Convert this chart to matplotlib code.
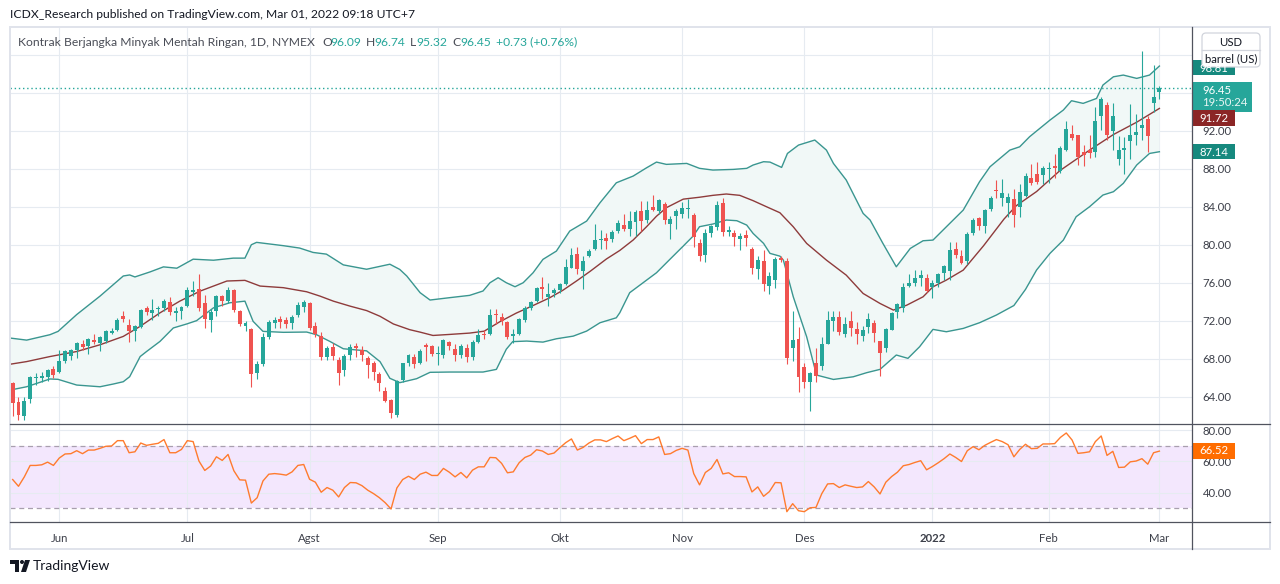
import numpy as np
import pandas as pd
import matplotlib
matplotlib.use("Agg")
import matplotlib.pyplot as plt
from matplotlib.patches import Rectangle, FancyBboxPatch, Circle, Polygon

plt.rcParams['font.family'] = ['Lato', 'DejaVu Sans']

W, H = 1280, 584

# daily candles, 19 May 2021 .. 1 Mar 2022
opens = [65.40, 63.40, 62.00, 63.80, 66.00, 66.00, 66.10, 66.90, 66.60, 67.80,
         68.30, 68.90, 69.60, 69.30, 70.00, 69.70, 69.90, 70.70, 71.00, 72.50,
         71.60, 70.90, 71.30, 73.30, 72.85, 73.20, 73.30, 74.00, 72.80, 73.00,
         73.50, 75.00, 75.30, 73.90, 72.10, 73.00, 74.60, 74.10, 75.20, 73.00,
         71.40, 71.10, 66.50, 67.40, 70.30, 71.80, 72.20, 72.10, 71.80, 72.60,
         73.40, 73.90, 71.40, 70.40, 68.20, 69.20, 67.90, 66.80, 68.40, 69.30,
         68.90, 68.10, 67.50, 66.40, 64.60, 63.70, 62.10, 65.80, 67.60, 68.20,
         67.60, 69.40, 69.30, 68.50, 68.40, 69.80, 69.00, 68.40, 69.10, 68.20,
         69.80, 70.60, 70.60, 72.70, 72.40, 71.90, 70.40, 70.60, 72.10, 73.30,
         74.10, 75.60, 74.50, 74.90, 75.20, 75.90, 77.60, 79.00, 77.20, 78.80,
         79.50, 80.50, 80.70, 80.60, 81.40, 82.10, 81.70, 82.40, 83.55, 82.60,
         84.00, 83.50, 84.30, 82.20, 83.00, 83.20, 83.80, 83.10, 80.20, 78.90,
         81.20, 81.90, 84.40, 81.30, 81.20, 80.60, 81.00, 79.60, 77.40, 78.30,
         75.70, 76.30, 78.60, 78.30, 69.10, 70.10, 67.10, 65.60, 67.50, 67.20,
         69.60, 72.00, 72.40, 70.60, 72.00, 71.10, 70.40, 71.30, 71.80, 69.90,
         69.10, 71.00, 72.90, 73.30, 75.70, 76.00, 76.50, 76.50, 75.50, 76.00,
         77.00, 77.20, 79.50, 78.80, 78.30, 81.20, 82.80, 82.00, 83.80, 85.80,
         84.95, 84.40, 84.80, 84.00, 85.10, 87.05, 87.40, 87.30, 87.95, 88.30,
         87.80, 90.00, 91.70, 91.55, 89.75, 90.00, 89.80, 93.60, 94.70, 92.00,
         89.00, 90.00, 90.90, 91.50, 92.30, 93.20, 94.90, 96.09]
highs = [65.60, 64.00, 64.00, 66.20, 66.50, 66.60, 66.90, 67.20, 68.90, 68.90,
         69.00, 69.80, 70.00, 70.20, 70.60, 70.40, 71.00, 71.20, 72.30, 73.00,
         72.20, 71.60, 73.20, 73.50, 74.25, 73.60, 74.30, 74.50, 73.40, 73.50,
         75.60, 76.20, 76.95, 74.70, 73.20, 74.70, 74.70, 75.50, 75.30, 73.10,
         72.00, 71.20, 67.80, 70.70, 72.10, 72.40, 72.50, 72.40, 72.60, 74.00,
         74.20, 74.00, 71.90, 70.80, 69.30, 69.70, 68.20, 68.50, 69.50, 69.70,
         69.30, 68.30, 67.80, 66.60, 65.00, 63.80, 65.80, 67.60, 68.50, 68.50,
         69.00, 69.65, 69.40, 69.30, 70.10, 69.90, 69.60, 69.60, 69.60, 70.00,
         71.10, 71.00, 73.20, 73.20, 72.80, 72.00, 71.10, 72.30, 73.50, 74.10,
         75.60, 76.60, 76.00, 75.40, 76.00, 78.50, 79.70, 79.80, 78.80, 79.50,
         82.20, 81.60, 81.20, 81.60, 82.60, 83.20, 83.50, 83.70, 84.60, 84.60,
         85.20, 84.80, 84.50, 83.00, 83.80, 84.50, 84.80, 83.30, 80.60, 81.70,
         82.10, 84.60, 84.90, 82.00, 81.60, 81.20, 81.60, 79.80, 78.80, 79.40,
         77.10, 78.75, 78.80, 78.60, 73.00, 71.30, 67.50, 66.60, 69.10, 70.30,
         73.00, 73.00, 73.00, 72.40, 73.00, 71.90, 71.40, 72.80, 72.10, 69.90,
         71.20, 72.90, 73.90, 76.00, 76.90, 77.30, 77.30, 76.90, 76.30, 77.00,
         77.90, 80.25, 80.30, 79.40, 81.30, 82.80, 82.90, 83.80, 85.10, 86.80,
         86.90, 85.40, 85.90, 86.40, 87.60, 88.50, 88.70, 88.30, 88.70, 89.60,
         90.40, 93.00, 92.60, 91.60, 90.50, 91.60, 94.50, 95.60, 95.00, 94.90,
         91.40, 91.30, 94.80, 93.80, 100.40, 93.60, 98.90, 96.74]
lows = [62.00, 61.60, 61.60, 63.30, 65.20, 65.50, 65.70, 66.00, 66.50, 67.50,
        67.90, 68.10, 68.90, 68.50, 69.50, 68.80, 69.70, 70.60, 70.90, 71.90,
        69.80, 69.90, 71.20, 72.60, 72.10, 72.50, 73.00, 72.60, 72.00, 72.20,
        73.40, 74.60, 73.00, 71.20, 70.80, 72.50, 73.50, 73.90, 72.90, 71.40,
        70.90, 65.00, 65.90, 67.20, 70.10, 71.20, 71.20, 71.20, 71.10, 72.40,
        72.90, 71.00, 70.30, 67.90, 67.90, 67.90, 65.20, 66.20, 67.90, 68.20,
        67.80, 66.00, 65.80, 64.60, 63.40, 61.74, 61.90, 65.60, 67.20, 67.00,
        67.40, 67.75, 68.30, 67.30, 68.10, 68.90, 67.80, 68.10, 67.70, 67.90,
        69.70, 70.10, 70.50, 71.70, 71.50, 70.10, 69.70, 70.50, 71.90, 73.10,
        74.00, 74.30, 73.60, 74.50, 74.90, 75.80, 77.50, 76.90, 75.30, 78.70,
        79.40, 79.50, 79.50, 80.30, 81.20, 81.40, 80.90, 80.90, 81.40, 82.30,
        83.50, 83.20, 82.20, 80.60, 81.70, 82.80, 82.80, 79.80, 78.30, 78.20,
        80.80, 81.60, 80.90, 80.90, 79.90, 79.40, 79.90, 76.90, 76.40, 75.10,
        74.80, 75.40, 78.20, 67.40, 67.80, 64.50, 64.90, 62.50, 65.60, 66.80,
        69.50, 70.90, 70.50, 70.30, 70.40, 69.60, 69.90, 70.70, 69.80, 66.20,
        68.70, 71.00, 72.30, 72.90, 75.50, 75.70, 75.70, 75.00, 74.40, 75.60,
        76.30, 76.30, 78.60, 78.00, 78.00, 81.00, 81.50, 81.20, 83.50, 84.90,
        84.10, 82.90, 81.90, 82.95, 85.00, 86.30, 86.40, 86.40, 86.50, 87.00,
        87.60, 89.90, 91.00, 88.40, 88.30, 89.10, 89.20, 92.10, 91.00, 90.00,
        88.40, 87.40, 89.00, 90.50, 91.00, 89.80, 94.00, 95.32]
closes = [63.36, 62.05, 63.58, 66.05, 66.10, 66.21, 66.85, 66.32, 67.72, 68.83,
          68.90, 69.70, 69.23, 70.05, 69.80, 70.25, 70.91, 70.95, 72.05, 72.15,
          70.95, 71.45, 73.15, 72.95, 73.10, 73.35, 74.05, 72.91, 73.00, 73.47,
          75.23, 75.20, 73.30, 72.20, 72.94, 74.56, 74.10, 75.25, 73.13, 71.65,
          71.81, 66.42, 67.42, 70.30, 71.91, 72.07, 71.91, 71.65, 72.39, 73.62,
          73.95, 71.26, 70.56, 68.15, 69.09, 68.28, 66.48, 68.29, 69.25, 69.09,
          68.44, 67.29, 66.59, 65.46, 63.50, 62.32, 65.64, 67.54, 68.36, 67.42,
          68.80, 69.21, 68.50, 68.59, 69.99, 69.29, 68.35, 69.30, 68.14, 69.72,
          70.45, 70.46, 72.61, 72.61, 71.97, 70.29, 70.56, 72.23, 73.30, 73.98,
          75.45, 75.29, 74.83, 75.20, 75.88, 77.62, 78.93, 77.43, 78.30, 79.35,
          80.52, 80.64, 80.44, 81.31, 82.28, 81.70, 82.50, 83.40, 82.50, 83.65,
          83.65, 84.70, 82.60, 82.70, 83.55, 83.90, 83.91, 80.86, 78.81, 81.27,
          81.93, 84.15, 81.34, 81.59, 80.79, 80.88, 80.76, 77.50, 78.40, 75.90,
          76.70, 78.50, 78.40, 68.10, 70.00, 66.10, 65.60, 66.50, 66.20, 69.55,
          72.10, 72.40, 70.85, 71.65, 71.25, 70.60, 71.00, 72.20, 70.70, 68.60,
          71.10, 72.80, 73.75, 75.60, 75.95, 76.45, 76.80, 75.10, 76.00, 76.90,
          77.80, 79.44, 78.90, 78.10, 81.10, 82.60, 82.00, 83.70, 84.90, 85.70,
          85.47, 85.00, 83.10, 85.60, 87.20, 86.50, 86.60, 88.10, 88.05, 88.10,
          90.20, 92.15, 91.20, 89.20, 89.40, 89.70, 93.00, 95.30, 91.55, 93.55,
          90.00, 90.20, 91.50, 91.90, 92.60, 91.40, 95.60, 96.45]

rsi = [48.4, 44.1, 50.1, 57.4, 57.4, 57.8, 59.5, 57.4, 62.1, 64.7,
       64.9, 66.8, 64.9, 67.2, 67.2, 68.3, 69.6, 69.8, 73.2, 73.2,
       65.5, 66.1, 71.7, 70.2, 70.9, 71.5, 73.9, 65.5, 65.5, 67.6,
       73.2, 72.6, 60.2, 54.2, 57.0, 62.9, 60.6, 64.4, 54.0, 48.2,
       48.0, 33.4, 36.8, 47.5, 51.8, 52.2, 51.8, 51.2, 53.3, 57.4,
       58.0, 48.6, 46.7, 40.3, 43.3, 41.6, 37.3, 43.3, 46.5, 46.3,
       44.5, 41.6, 39.4, 36.8, 33.6, 29.6, 43.0, 48.4, 50.5, 48.4,
       51.8, 53.1, 51.0, 51.0, 55.5, 53.1, 50.1, 52.9, 49.5, 54.4,
       56.5, 56.5, 62.5, 62.3, 58.7, 52.7, 53.3, 59.1, 62.5, 64.0,
       67.4, 66.6, 64.4, 65.3, 68.7, 71.9, 74.3, 67.2, 68.9, 71.7,
       73.7, 73.7, 72.6, 74.5, 76.2, 73.2, 74.7, 76.4, 71.3, 73.9,
       73.9, 75.6, 64.4, 64.9, 67.0, 68.3, 67.2, 52.2, 45.0, 52.9,
       55.5, 61.2, 52.0, 52.7, 50.3, 50.3, 50.1, 40.5, 43.7, 37.7,
       40.7, 46.5, 46.3, 27.9, 33.0, 28.5, 27.9, 30.4, 30.6, 39.4,
       45.6, 45.8, 43.3, 45.0, 44.1, 43.3, 43.7, 47.1, 43.7, 39.2,
       46.7, 50.3, 53.1, 57.2, 58.0, 59.3, 60.4, 54.6, 56.7, 59.1,
       61.7, 64.7, 62.5, 59.9, 66.8, 69.4, 67.4, 70.2, 72.1, 73.9,
       72.6, 70.6, 62.9, 67.6, 70.9, 68.1, 68.3, 71.1, 71.1, 71.3,
       75.3, 78.1, 73.6, 65.1, 65.5, 66.1, 72.6, 76.2, 63.8, 66.4,
       56.1, 56.3, 59.7, 60.2, 61.7, 58.2, 65.5, 66.52]

# Bollinger band lines, sampled at bar positions
bb_up_x = [-0.46, 2.4, 6.4, 7.8, 11.0, 15.0, 19.0, 20.1, 21.0, 23.6, 25.9, 28.2,
           31.0, 34.5, 37.9, 39.9, 41.0, 41.9, 46.5, 49.3, 51.6, 53.9, 56.8, 60.8,
           64.8, 66.5, 67.7, 70.0, 71.7, 75.1, 78.5, 80.8, 82.0, 83.4, 84.8, 86.3,
           87.7, 89.4, 91.1, 93.4, 95.7, 98.6, 100.9, 103.7, 106.6, 108.9, 110.6,
           112.3, 115.8, 118.0, 120.3, 123.8, 126.1, 127.2, 129.0, 130.1, 132.1,
           133.1, 135.0, 137.8, 139.8, 141.0, 143.2, 146.1, 147.3, 149.5, 151.8,
           154.2, 156.4, 158.1, 160.4, 163.3, 166.1, 167.9, 171.3, 173.0, 174.7,
           178.2, 180.5, 181.9, 183.9, 186.2, 187.3, 189.1, 190.8, 193.1, 195.3, 197.0]
bb_up = [70.18, 69.96, 70.53, 70.88, 72.65, 74.59, 76.71, 76.82, 76.61, 77.14, 77.67, 77.53,
         78.48, 78.37, 78.59, 78.59, 80.00, 80.25, 79.90, 79.65, 79.19, 79.01, 77.88, 77.42,
         77.95, 77.40, 76.71, 74.95, 74.18, 74.43, 74.67, 75.13, 76.00, 76.53, 76.00, 75.58,
         76.00, 77.05, 78.46, 79.33, 81.44, 82.49, 84.42, 86.52, 87.23, 88.10, 88.70,
         88.46, 88.56, 88.04, 87.86, 87.93, 88.04, 88.39, 88.74, 88.70, 88.14,
         89.61, 90.49, 91.02, 89.96, 88.56, 86.81, 83.30, 82.60, 80.14, 77.68,
         79.61, 80.42, 80.49, 81.89, 83.65, 86.63, 88.21, 89.96, 90.31, 91.37,
         93.12, 94.18, 95.16, 94.88, 95.40, 96.81, 97.68, 97.86, 97.51, 97.86, 98.81]
bb_mid_x = [-0.46, 2.4, 6.4, 11.0, 15.0, 19.0, 21.9, 25.3, 28.7, 32.2, 36.8, 39.9,
            42.5, 46.5, 50.5, 52.8, 55.1, 58.0, 60.8, 63.1, 65.4, 68.2, 70.0, 72.2,
            75.1, 78.5, 81.0, 83.7, 86.5, 89.4, 92.2, 94.5, 96.9, 99.2, 102.0, 104.3,
            106.6, 108.9, 110.6, 112.3, 115.2, 118.0, 120.3, 122.6, 124.9, 127.2,
            129.5, 131.8, 134.1, 136.4, 139.8, 143.2, 146.1, 149.0, 151.3, 153.6,
            156.4, 158.1, 160.4, 163.3, 166.8, 170.3, 172.4, 175.9, 179.9, 185.0,
            189.1, 193.1, 197.0]
bb_mid = [67.42, 67.70, 68.23, 68.76, 69.47, 70.35, 71.41, 72.83, 74.06, 75.12, 76.18, 76.25,
          75.65, 75.48, 75.05, 74.59, 74.06, 73.53, 73.07, 72.47, 71.66, 71.06, 70.80, 70.45,
          70.56, 70.70, 70.90, 71.90, 72.80, 73.60, 74.40, 75.20, 76.20, 77.20, 78.50, 79.40,
          80.50, 81.90, 83.00, 83.90, 84.80, 85.00, 85.20, 85.34, 85.20, 84.64,
          84.00, 83.37, 81.89, 80.14, 78.38, 76.80, 74.87, 73.82, 73.12, 73.64,
          74.52, 75.57, 76.28, 77.33, 79.90, 82.70, 84.10, 85.60, 87.80, 89.96,
          91.60, 92.90, 94.35]
bb_lo_x = [-0.46, 2.4, 6.4, 7.8, 11.0, 15.0, 17.3, 19.0, 20.1, 21.9, 23.0, 25.3,
           27.6, 29.9, 31.6, 34.5, 37.3, 39.9, 41.3, 43.0, 46.5, 50.5, 52.2, 54.5,
           56.8, 60.8, 63.1, 64.8, 66.5, 69.4, 71.7, 75.1, 80.8, 83.1, 84.8, 85.9,
           88.3, 91.1, 93.4, 96.3, 98.6, 100.9, 103.7, 104.3, 106.0, 108.3, 110.6,
           112.9, 115.2, 116.9, 118.0, 120.3, 122.6, 124.4, 126.1, 127.2, 129.0,
           130.1, 131.8, 132.4, 134.1, 136.4, 138.1, 141.0, 144.4, 146.7, 149.0,
           151.8, 153.8, 155.8, 158.1, 160.4, 163.3, 166.1, 169.0, 172.0, 174.0,
           175.9, 178.2, 180.5, 182.7, 185.0, 187.3, 189.1, 190.8, 193.1, 195.3, 197.0]
bb_lo = [64.70, 65.05, 65.87, 65.83, 65.23, 65.05, 65.34, 65.58, 66.11, 68.23, 68.76, 69.82,
         71.24, 71.66, 72.01, 73.36, 73.89, 74.06, 71.94, 70.88, 70.78, 70.81, 70.53, 69.82,
         69.05, 68.83, 67.70, 65.94, 65.48, 65.90, 66.57, 66.60, 66.60, 66.88, 69.00, 69.80,
         69.86, 69.75, 70.10, 70.38, 70.91, 71.79, 72.31, 72.84, 74.95, 76.00, 77.05,
         78.46, 79.86, 80.91, 81.90, 82.18, 82.60, 82.53, 82.07, 81.19, 80.14,
         79.09, 78.80, 78.38, 74.52, 70.31, 66.28, 65.82, 66.10, 66.53, 66.88,
         68.39, 68.04, 69.26, 71.09, 70.84, 71.19, 71.79, 72.60, 73.60, 75.30,
         77.34, 79.09, 80.49, 82.95, 84.00, 85.23, 85.58, 86.46, 88.39, 89.61, 89.79]

month_labels = ['Jun', 'Jul', 'Agst', 'Sep', 'Okt', 'Nov', 'Des', '2022', 'Feb', 'Mar']
price_ticks = [64, 68, 72, 76, 80, 84, 88, 92, 96, 100]
rsi_ticks = [40, 60, 80]

holidays = pd.to_datetime(['2021-05-31', '2021-07-05', '2021-09-06', '2021-11-25',
                           '2021-12-24', '2022-01-17', '2022-02-21'])
days = pd.bdate_range('2021-05-19', '2022-03-01')
days = days[~days.isin(holidays)]
month_idx = [i for i in range(1, len(days)) if days[i].month != days[i - 1].month]

UP, DOWN = '#26a69a', '#ef5350'
GRID = '#e6ebf1'
TXT = '#3d404a'
LINE_DARK = '#50535e'

fig = plt.figure(figsize=(W / 100, H / 100), dpi=100)
fig.patch.set_facecolor('white')


def px_axes(x0, y0, x1, y1):
    return fig.add_axes([x0 / W, 1 - y1 / H, (x1 - x0) / W, (y1 - y0) / H])


ax = px_axes(10, 27, 1192, 424)
ax2 = px_axes(10, 424, 1192, 521.7)

for a in (ax, ax2):
    a.set_xlim(-0.46, 202.6)
    for s in a.spines.values():
        s.set_visible(False)
    a.set_xticks(month_idx)
    a.grid(True, color=GRID, lw=0.8)
    a.set_axisbelow(True)
    a.yaxis.tick_right()
    a.tick_params(length=0, labelsize=8.2, labelcolor=TXT, pad=7.5)

# price panel
ax.set_ylim(61.13, 102.92)
ax.set_yticks(price_ticks)
ax.set_yticklabels([f'{v:.2f}' if v <= 92 else '' for v in price_ticks])
ax.set_xticklabels([])

o = np.array(opens); h = np.array(highs); l = np.array(lows); c = np.array(closes)
x = np.arange(len(c))
col = np.where(c >= o, UP, DOWN)

ax.fill(np.concatenate([bb_up_x, bb_lo_x[::-1]]),
        np.concatenate([bb_up, bb_lo[::-1]]), color='#f1f8f7', lw=0, zorder=1)
ax.plot(bb_up_x, bb_up, color='#3a9690', lw=1.0, zorder=2)
ax.plot(bb_lo_x, bb_lo, color='#3a9690', lw=1.0, zorder=2)
ax.plot(bb_mid_x, bb_mid, color='#8e3b3b', lw=1.0, zorder=2)

ax.vlines(x, l, h, colors=col, lw=0.8, zorder=3)
ax.bar(x, np.maximum(np.abs(c - o), 0.1), bottom=np.minimum(o, c), width=0.68,
       color=col, lw=0, zorder=4)
ax.axhline(closes[-1], color=UP, lw=1.0, ls=(0, (1, 2)), zorder=5)

# rsi panel
ax2.set_ylim(21.5, 83.83)
ax2.set_yticks(rsi_ticks)
ax2.set_yticklabels([f'{v:.2f}' for v in rsi_ticks])
ax2.set_xticklabels(month_labels)
ax2.tick_params(axis='x', pad=8)
for t in ax2.get_xticklabels():
    if t.get_text() == '2022':
        t.set_fontweight('bold')
ax2.axhspan(30, 70, color='#f3e7fd', lw=0, zorder=0.5)
ax2.axhline(70, color='#a89fae', lw=0.9, ls=(0, (4, 3)), zorder=1)
ax2.axhline(30, color='#a89fae', lw=0.9, ls=(0, (4, 3)), zorder=1)
ax2.plot(x, rsi, color='#ff7b2e', lw=1.0, zorder=3)

# chrome drawn in pixel space
ov = fig.add_axes([0, 0, 1, 1], zorder=10)
ov.set_xlim(0, W)
ov.set_ylim(H, 0)
ov.axis('off')

ov.add_patch(Rectangle((10, 27), 1260, 522, fill=False, ec='#e0e3eb', lw=1.4))
ov.plot([10, 1270], [424, 424], color=LINE_DARK, lw=0.9)
ov.plot([10, 1270], [521.7, 521.7], color=LINE_DARK, lw=0.9)
ov.plot([1192, 1192], [27, 549], color=LINE_DARK, lw=0.9)

ov.text(10, 14, 'ICDX_Research published on TradingView.com, Mar 01, 2022 09:18 UTC+7',
        fontsize=8.7, color='#131722', va='center', ha='left')

ov.text(18, 42, 'Kontrak Berjangka Minyak Mentah Ringan, 1D, NYMEX',
        fontsize=8.7, color='#4a4d57', va='center', ha='left')
for lx, lab, vx, val in [(322, 'O', 330, '96.09'), (366, 'H', 374, '96.74'),
                         (410, 'L', 416, '95.32'), (452, 'C', 460, '96.45')]:
    ov.text(lx, 42, lab, fontsize=8.7, color='#4a4d57', va='center', ha='left')
    ov.text(vx, 42, val, fontsize=8.7, color=UP, va='center', ha='left')
ov.text(496, 42, '+0.73 (+0.76%)', fontsize=8.7, color=UP, va='center', ha='left')

# right-side value labels
ov.add_patch(Rectangle((1193, 60), 42, 15, color='#16897e', lw=0))
ov.text(1214, 68, '98.81', fontsize=8.2, color='white', va='center', ha='center')
ov.add_patch(FancyBboxPatch((1202, 33), 58, 34, boxstyle='round,pad=0,rounding_size=4',
                            fc='white', ec='#d1d4dc', lw=0.9))
ov.plot([1202, 1260], [50, 50], color='#d1d4dc', lw=0.9)
ov.text(1231, 42, 'USD', fontsize=8.2, color='#131722', va='center', ha='center')
ov.text(1231, 59, 'barrel (US)', fontsize=8.2, color='#131722', va='center', ha='center')

ov.add_patch(Rectangle((1193, 82), 59, 30, color=UP, lw=0))
ov.text(1202, 90, '96.45', fontsize=8.2, color='white', va='center', ha='left')
ov.text(1202, 103, '19:50:24', fontsize=8.2, color='#e8f6f4', va='center', ha='left')
ov.add_patch(Rectangle((1193, 110), 42, 16, color='#8b2626', lw=0))
ov.text(1214, 118, '91.72', fontsize=8.2, color='white', va='center', ha='center')
ov.add_patch(Rectangle((1193, 144), 42, 15, color='#16897e', lw=0))
ov.text(1214, 152, '87.14', fontsize=8.2, color='white', va='center', ha='center')
ov.add_patch(Rectangle((1193, 443), 42, 16, color='#ff6d00', lw=0))
ov.text(1214, 451, '66.52', fontsize=8.2, color='white', va='center', ha='center')

# TradingView logo
ov.add_patch(Polygon([(10, 560), (19, 560), (19, 572), (15, 572), (15, 564), (10, 564)],
                     closed=True, color='#131722', lw=0))
ov.add_patch(Circle((22, 562), 2, color='#131722', lw=0))
ov.add_patch(Polygon([(25, 560), (30, 560), (26, 572), (21, 572)], closed=True,
                     color='#131722', lw=0))
ov.text(33, 566, 'TradingView', fontsize=10, color='#131722', va='center', ha='left')

fig.savefig('out.png', dpi=100, facecolor='white')
